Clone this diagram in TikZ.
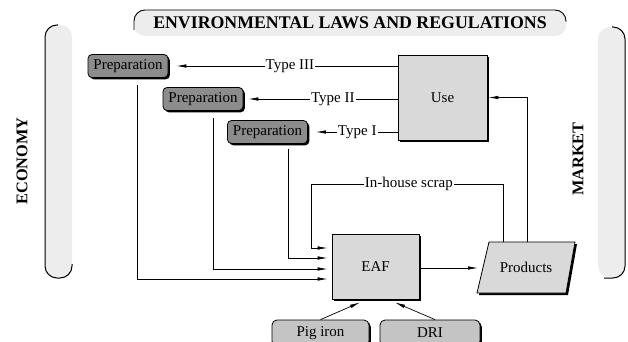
\documentclass[tikz,border=0pt]{standalone}
\usepackage{fontspec}
\setmainfont{Liberation Serif}
\usetikzlibrary{arrows.meta,calc,shadows}
\definecolor{pale}{HTML}{EDEDED}
\definecolor{boxgray}{HTML}{D9D9D9}
\definecolor{prepgray}{HTML}{8C8C8C}
\definecolor{feedgray}{HTML}{C4C4C4}
\begin{document}
\begin{tikzpicture}[x=1pt,y=-1pt,
  font=\fontsize{15}{18}\selectfont,
  line width=0.8pt,
  arr/.style={-{Latex[length=10pt,width=3.5pt]}, line width=0.7pt},
  sh/.style={drop shadow={shadow xshift=1.8pt,shadow yshift=-1.8pt,fill=black,opacity=1}},
  prepbox/.style={draw, fill=prepgray, rounded corners=4pt, minimum width=80pt, minimum height=23pt, inner sep=0pt, sh},
  bigbox/.style={draw, fill=boxgray, inner sep=0pt, sh},
  feedbox/.style={draw, fill=feedgray, rounded corners=5pt, minimum width=97pt, minimum height=26pt, inner sep=0pt, sh},
  lbl/.style={fill=white, inner sep=1pt},
  edge/.style={line width=1pt, rounded corners=12pt},
  sidelabel/.style={rotate=90, font=\bfseries\fontsize{16.3}{19}\selectfont}
]
\clip (0,0) rectangle (628,342);
\fill[white] (0,0) rectangle (628,342);
% banner
\fill[pale, rounded corners=11pt] (134,10) rectangle (566,36);
\draw[line width=0.9pt, rounded corners=11pt] (134,30) -- (134,10) -- (566,10) -- (566,22);
\node[font=\bfseries\fontsize{17.8}{20}\selectfont] (title) at (350,23) {ENVIRONMENTAL LAWS AND REGULATIONS};
% pillars
\fill[pale, rounded corners=12pt] (45,25) rectangle (72,278);
\draw[edge] (58,25) -- (45,25) -- (45,278) -- (72,278) -- (72,264);
\fill[pale, rounded corners=12pt] (598,27) rectangle (625,278);
\draw[edge] (612,27) -- (625,27) -- (625,278) -- (604,278);
\node[sidelabel] (econ) at (22,161) {ECONOMY};
\node[sidelabel] (market) at (578,159) {MARKET};
% boxes
\node[prepbox] (p1) at (128,66) {Preparation};
\node[prepbox] (p2) at (203,99) {Preparation};
\node[prepbox] (p3) at (267.5,132) {Preparation};
\node[bigbox, minimum width=89pt, minimum height=85pt] (use) at (442.5,97.5) {Use};
\node[bigbox, minimum width=87pt, minimum height=65pt] (eaf) at (375.5,266.5) {EAF};
% products parallelogram
\fill[black] (491,244) -- (577,244) -- (568,295) -- (479,295) -- cycle;
\draw[fill=boxgray] (489,242) -- (575,242) -- (566,293) -- (477,293) -- cycle;
\node (prod) at (526,267.5) {Products};
\coordinate (prodA) at (503,242);
\coordinate (prodB) at (527,242);
\coordinate (prodW) at (483,268);
% feeds
\node[feedbox] (pig) at (320.5,333) {Pig iron};
\node[feedbox, minimum width=100pt] (dri) at (430,333) {DRI};
% connectors
\draw[arr, shorten >=8pt] (use.west |- p1.east) -- node[lbl, pos=0.47]{Type III} (p1.east);
\draw[arr, shorten >=5pt] (use.west |- p2.east) -- node[lbl, pos=0.42]{Type II} (p2.east);
\draw[arr, shorten >=8pt] (use.west |- p3.east) -- node[lbl, pos=0.45]{Type I} (p3.east);
\draw[arr, shorten >=1pt] (prodB) |- (use.east);
\draw[arr, shorten >=4pt] (prodA) -- (503,184) -- node[lbl, pos=0.49]{In-house scrap} (311,184) -- (311,248) -- (eaf.west |- 0,248);
\draw[arr, shorten >=4pt] ($(p1.south)+(9,7)$) |- (eaf.west |- 0,279);
\draw[arr, shorten >=4pt] ($(p2.south)+(10,7)$) |- (eaf.west |- 0,269);
\draw[arr, shorten >=4pt] ($(p3.south)+(20.5,5)$) |- (eaf.west |- 0,258);
\draw[arr, shorten >=5pt] (eaf.east |- prodW) -- (prodW);
\draw[arr] (pig.north) -- ($(eaf.south)+(-15.5,3)$);
\draw[arr] ($(dri.north)+(5,0)$) -- ($(eaf.south)+(19.5,3)$);
\end{tikzpicture}
\end{document}
